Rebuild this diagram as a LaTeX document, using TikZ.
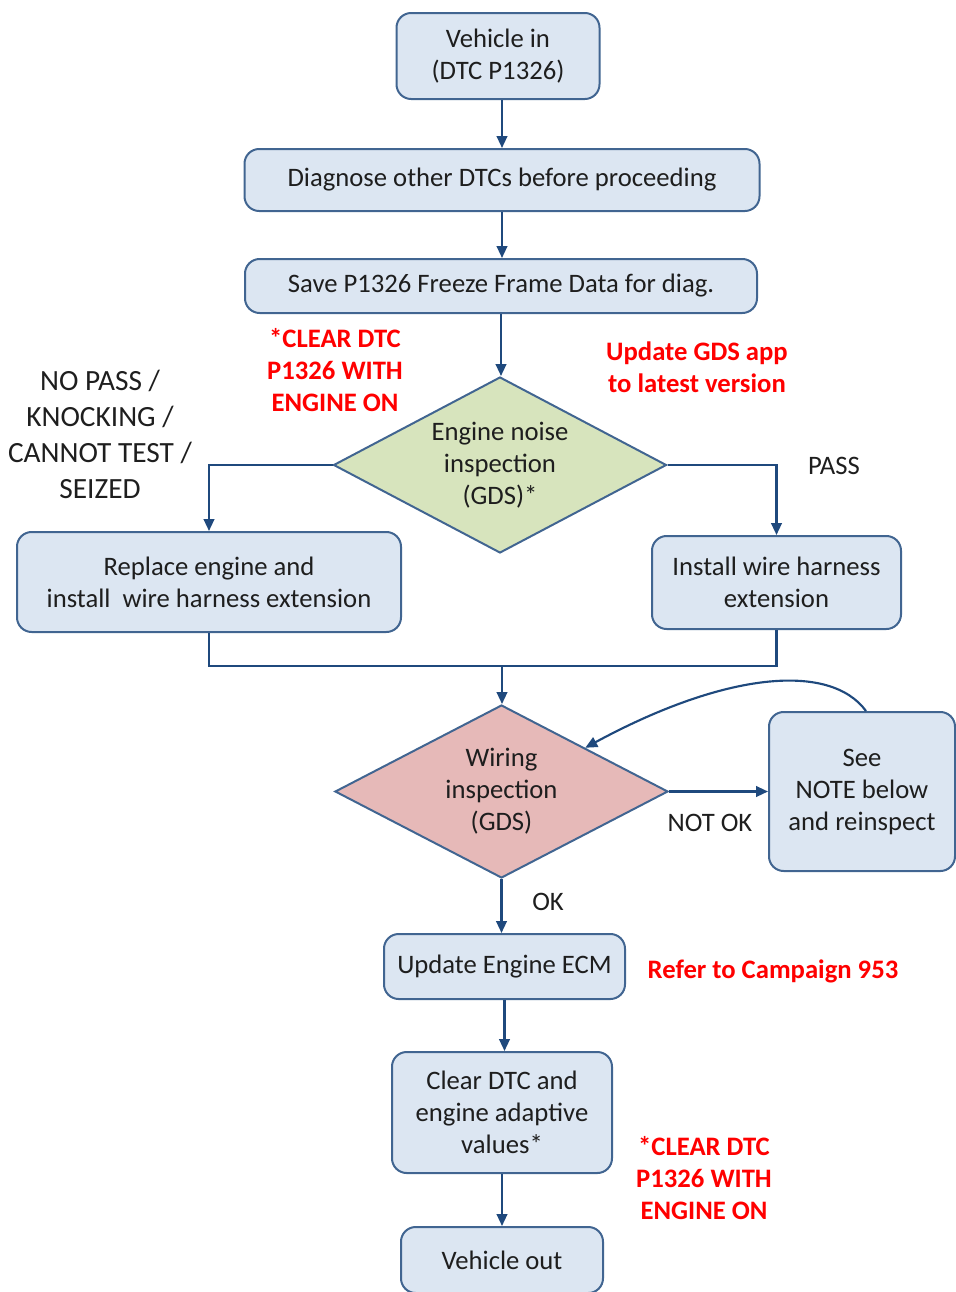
\documentclass[tikz,border=0pt]{standalone}
\usepackage{fontspec}
\setmainfont{Carlito}
\usetikzlibrary{shapes.geometric,arrows.meta,calc}
\definecolor{boxfill}{RGB}{220,230,242}
\definecolor{boxline}{RGB}{65,101,145}
\definecolor{arr}{RGB}{31,73,125}
\definecolor{dgreen}{RGB}{215,228,189}
\definecolor{dpink}{RGB}{230,185,184}
\definecolor{redtxt}{RGB}{255,0,0}
\definecolor{txt}{RGB}{30,30,30}
\begin{document}
\begin{tikzpicture}[x=0.75pt,y=-0.75pt,
 every node/.style={font=\fontsize{20}{24}\selectfont, text=txt},
 box/.style={draw=boxline, line width=1.5pt, fill=boxfill, rounded corners=11pt, align=center, inner sep=0pt},
 dec/.style={draw=boxline, line width=1.5pt, diamond, align=center, inner sep=0pt},
 conn/.style={draw=arr, line width=1.6pt, -{Triangle[length=9pt,width=8pt]}},
 plain/.style={draw=arr, line width=1.6pt},
 note/.style={text=redtxt, font=\bfseries\fontsize{20}{24}\selectfont, align=center},
 lab/.style={align=center}]
\useasboundingbox (0,0) rectangle (956,1292);

\node[box, minimum width=152.25pt, minimum height=64.5pt] (b1) at (498,56) {Vehicle in\\(DTC P1326)};
\node[box, minimum width=386.25pt, minimum height=46.5pt] (b2) at (502,180) {Diagnose other DTCs before proceeding};
\node[box, minimum width=384pt, minimum height=40.5pt] (b3) at (501,286) {Save P1326 Freeze Frame Data for diag.};
\node[dec, fill=dgreen, minimum width=249.75pt, minimum height=132pt, aspect=1.89] (d1) at (500,465) {Engine noise\\inspection\\(GDS)*};
\node[box, minimum width=288pt, minimum height=75pt] (b4) at (209,582) {Replace engine and\\install~ wire harness extension};
\node[box, minimum width=186.75pt, minimum height=69.75pt] (b5) at (776.5,582.5) {Install wire harness\\extension};
\node[dec, fill=dpink, minimum width=249.75pt, minimum height=129.75pt, aspect=1.92] (d2) at (501.5,791.5) {Wiring\\inspection\\(GDS)};
\node[box, minimum width=139.5pt, minimum height=119.25pt] (b6) at (862,791.5) {See\\NOTE below\\and reinspect};
\node[box, minimum width=180.75pt, minimum height=48.75pt] (b7) at (504.5,966.5) {Update Engine ECM};
\node[box, minimum width=165pt, minimum height=90.75pt] (b8) at (502,1112.5) {Clear DTC and\\engine adaptive\\values*};
\node[box, minimum width=151.5pt, minimum height=49.5pt] (b9) at (502,1260) {Vehicle out};

\coordinate (m) at (502,666);

\draw[conn] ([xshift=3pt]b1.south) -- ([xshift=3pt]b1.south |- b2.north);
\draw[conn] (b2.south) -- (b2.south |- b3.north);
\draw[conn] (b3.south) -- (b3.south |- d1.north);
\draw[conn] (d1.west) -| (b4.north);
\draw[conn] (d1.east) -| (b5.north);
\draw[plain] (b4.south) |- (m);
\draw[plain] (b5.south) |- (m);
\draw[conn] (m) -- (m |- d2.north);
\draw[conn] (d2.east) -- (b6.west);
\draw[conn] ([xshift=3pt]b6.north) .. controls (830,662) and (725,672) .. ($(d2.north)!0.5!(d2.east)$);
\draw[conn] (d2.south) -- (d2.south |- b7.north);
\draw[conn] (b7.south) -- (b7.south |- b8.north);
\draw[conn] (b8.south) -- (b8.south |- b9.north);

\node[lab, font=\fontsize{22}{27}\selectfont] (l1) at (100,434) {NO PASS /\\KNOCKING /\\CANNOT TEST /\\SEIZED};
\node[lab] (l2) at (834,466) {PASS};
\node[lab] (l3) at (710,823) {NOT OK};
\node[lab] (l4) at (548,902) {OK};

\node[note] (n1) at (335,370) {*CLEAR DTC\\P1326 WITH\\ENGINE ON};
\node[note] (n2) at (697,367) {Update GDS app\\to latest version};
\node[note] (n3) at (773,971) {Refer to Campaign 953};
\node[note] (n4) at (704,1178) {*CLEAR DTC\\P1326 WITH\\ENGINE ON};
\end{tikzpicture}
\end{document}
